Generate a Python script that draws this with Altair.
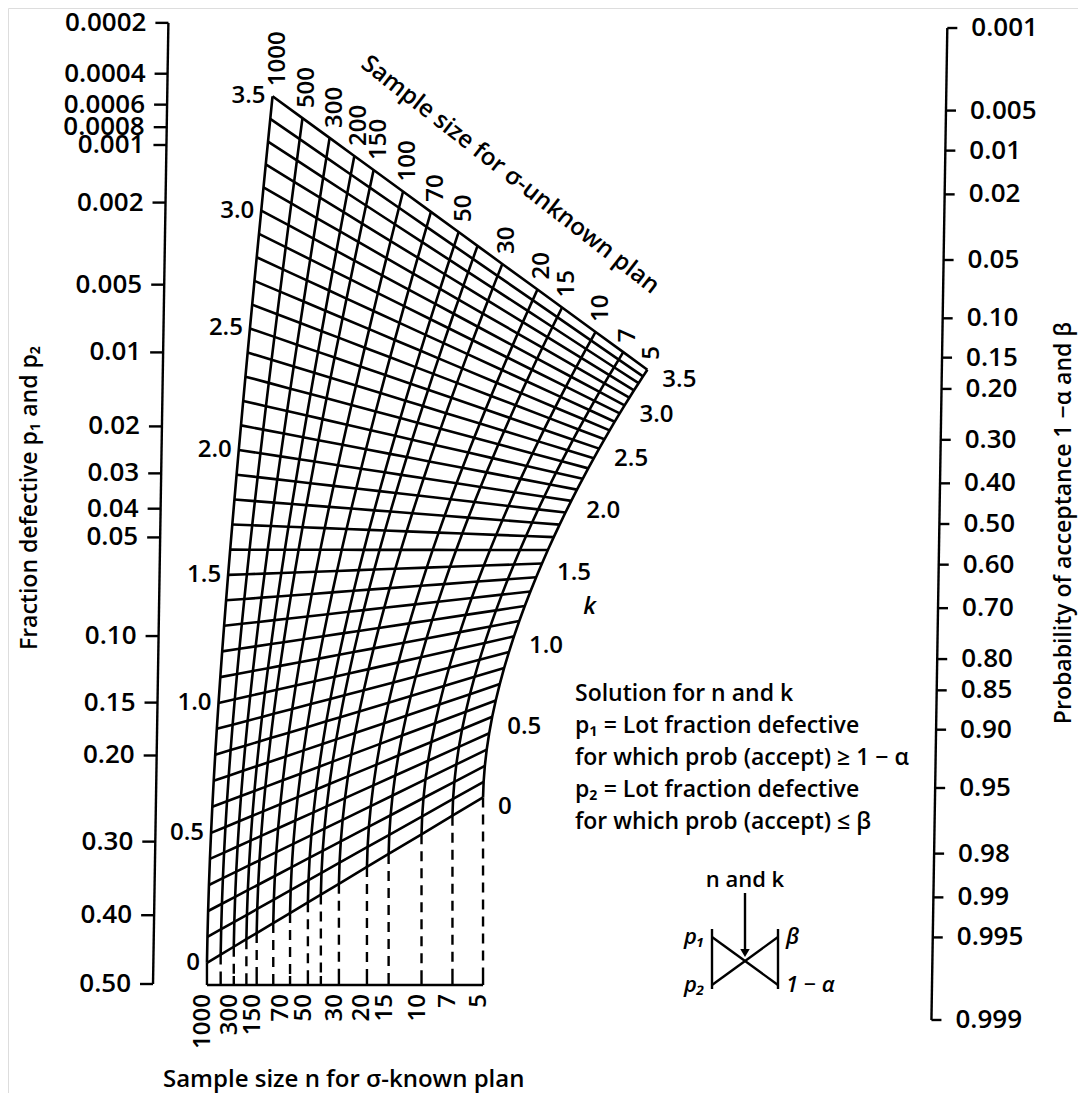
import altair as alt
import numpy as np
import pandas as pd
from statistics import NormalDist

ND = NormalDist()

# ---------------- values ----------------
LEFT_TICKS = [0.0002, 0.0004, 0.0006, 0.0008, 0.001, 0.002, 0.005, 0.01, 0.02,
              0.03, 0.04, 0.05, 0.10, 0.15, 0.20, 0.30, 0.40, 0.50]
LEFT_LABELS = ["0.0002", "0.0004", "0.0006", "0.0008", "0.001", "0.002", "0.005",
               "0.01", "0.02", "0.03", "0.04", "0.05", "0.10", "0.15", "0.20",
               "0.30", "0.40", "0.50"]
RIGHT_TICKS = [0.001, 0.005, 0.01, 0.02, 0.05, 0.10, 0.15, 0.20, 0.30, 0.40, 0.50,
               0.60, 0.70, 0.80, 0.85, 0.90, 0.95, 0.98, 0.99, 0.995, 0.999]
RIGHT_LABELS = ["0.001", "0.005", "0.01", "0.02", "0.05", "0.10", "0.15", "0.20",
                "0.30", "0.40", "0.50", "0.60", "0.70", "0.80", "0.85", "0.90",
                "0.95", "0.98", "0.99", "0.995", "0.999"]
N_LINES = [1000, 500, 300, 200, 150, 100, 70, 50, 40, 30, 20, 15, 10, 7, 5]
N_TOP_LABELS = [1000, 500, 300, 200, 150, 100, 70, 50, 30, 20, 15, 10, 7, 5]
N_BOTTOM_LABELS = [1000, 300, 150, 70, 50, 30, 20, 15, 10, 7, 5]
K_LINES = [0.0, 0.1, 0.2, 0.3, 0.4, 0.5, 0.6, 0.7, 0.8, 0.9, 1.0, 1.1, 1.2, 1.3,
           1.4, 1.5, 1.6, 1.7, 1.8, 1.9, 2.0, 2.1, 2.2, 2.3, 2.4, 2.5, 2.6, 2.7,
           2.8, 2.9, 3.0, 3.1, 3.2, 3.3, 3.4, 3.5]
K_LABELS = [0.0, 0.5, 1.0, 1.5, 2.0, 2.5, 3.0, 3.5]
K_LABEL_TEXT = ["0", "0.5", "1.0", "1.5", "2.0", "2.5", "3.0", "3.5"]
LEGEND_LINES = ["Solution for n and k",
                "p\u2081 = Lot fraction defective",
                "for which prob (accept) \u2265 1 \u2212 \u03b1",
                "p\u2082 = Lot fraction defective",
                "for which prob (accept) \u2264 \u03b2"]

# ---------------- layout of the nomograph (page pixels) ----------------
FONT = "Open Sans"
WEIGHT = 600
LEFT_ZERO_Y, LEFT_UNIT = 984.0, 271.5      # left probit scale
RIGHT_MID_Y, RIGHT_UNIT = 524.0, 160.5     # right probit scale
X_L, X_R, SPREAD = 171.6, 932.0, 1.526     # nomograph alignment
CONV_SLOPE = 16.6                          # drift of the k-line pivot
AXIS_L_X, AXIS_R_X = 153.0, 932.0
BASE_Y, SKEW = 985.0, 0.016

XS = alt.Scale(domain=[8, 1078], nice=False, zero=False)
YS = alt.Scale(domain=[8, 1093], nice=False, zero=False, reverse=True)


def skew(x, y):
    return x + (BASE_Y - y) * SKEW


def y_left(p):
    return LEFT_ZERO_Y - LEFT_UNIT * ND.inv_cdf(1 - p)


def y_right(prob):
    return RIGHT_MID_Y + RIGHT_UNIT * ND.inv_cdf(prob)


def node(n, k):
    w = np.sqrt(1.0 / n + k * k / (2.0 * (n + 2)))
    r = SPREAD * w
    t = r / (1 + r)
    xm = X_L + t * (X_R - X_L)
    y = (1 - t) * (LEFT_ZERO_Y - LEFT_UNIT * k) + t * (RIGHT_MID_Y + CONV_SLOPE * k)
    return skew(xm, y), y


# ---------------- grid polylines ----------------
rows = []
for k in K_LINES:
    for i, n in enumerate(N_LINES):
        x, y = node(n, k)
        rows.append({"lid": f"k{k}", "ord": i, "x": x, "y": y})
for n in N_LINES:
    for i, k in enumerate(K_LINES):
        x, y = node(n, k)
        rows.append({"lid": f"n{n}", "ord": i, "x": x, "y": y})
df_grid = pd.DataFrame(rows)

# ---------------- rules ----------------
solid = []
dashed = []
yt, yb = y_left(LEFT_TICKS[0]), y_left(LEFT_TICKS[-1])
solid.append({"x": skew(AXIS_L_X, yt), "y": yt, "x2": skew(AXIS_L_X, yb), "y2": yb})
for p in LEFT_TICKS:
    y = y_left(p)
    ax = skew(AXIS_L_X, y)
    solid.append({"x": ax - 13, "y": y, "x2": ax, "y2": y})
yt, yb = y_right(RIGHT_TICKS[0]), y_right(RIGHT_TICKS[-1])
solid.append({"x": skew(AXIS_R_X, yt), "y": yt, "x2": skew(AXIS_R_X, yb), "y2": yb})
for p in RIGHT_TICKS:
    y = y_right(p)
    ax = skew(AXIS_R_X, y)
    solid.append({"x": ax, "y": y, "x2": ax + 10, "y2": y})
x_first = node(N_LINES[0], 0.0)[0]
x_last = node(N_LINES[-1], 0.0)[0]
solid.append({"x": x_first, "y": BASE_Y, "x2": x_last, "y2": BASE_Y})
for i, n in enumerate(N_LINES):
    x, y = node(n, 0.0)
    if i == 0:
        solid.append({"x": x, "y": y, "x2": x, "y2": BASE_Y})
    else:
        solid.append({"x": x, "y": BASE_Y - 9, "x2": x, "y2": BASE_Y})
        dashed.append({"x": x, "y": y, "x2": x, "y2": BASE_Y - 9})
# key diagram
DX1, DX2, DYT, DYB = 712.0, 778.0, 937.0, 985.0
DXC = (DX1 + DX2) / 2
solid.append({"x": DX1, "y": DYT - 8, "x2": DX1, "y2": DYB + 4})
solid.append({"x": DX2, "y": DYT - 8, "x2": DX2, "y2": DYB + 4})
solid.append({"x": DX1, "y": DYT, "x2": DX2, "y2": DYB})
solid.append({"x": DX1, "y": DYB, "x2": DX2, "y2": DYT})
solid.append({"x": DXC, "y": 893, "x2": DXC, "y2": 950})
df_solid = pd.DataFrame(solid)
df_dashed = pd.DataFrame(dashed)
df_arrow = pd.DataFrame([{"x": DXC, "y": 953}])

# ---------------- texts ----------------
t_left = pd.DataFrame([{"x": skew(AXIS_L_X, y_left(p)) - 22, "y": y_left(p), "t": s}
                       for p, s in zip(LEFT_TICKS, LEFT_LABELS)])
t_right = pd.DataFrame([{"x": skew(AXIS_R_X, y_right(p)) + 24, "y": y_right(p), "t": s}
                        for p, s in zip(RIGHT_TICKS, RIGHT_LABELS)])
t_kl = pd.DataFrame([{"x": node(N_LINES[0], k)[0] - 7, "y": node(N_LINES[0], k)[1], "t": s}
                     for k, s in zip(K_LABELS, K_LABEL_TEXT)])
t_kr = pd.DataFrame([{"x": node(N_LINES[-1], k)[0] + 15, "y": node(N_LINES[-1], k)[1] + 10, "t": s}
                     for k, s in zip(K_LABELS, K_LABEL_TEXT)])
t_top = pd.DataFrame([{"x": node(n, 3.5)[0] + 5, "y": node(n, 3.5)[1] - 10, "t": str(n)}
                      for n in N_TOP_LABELS])

# bottom labels: at their ticks, pushed apart where they would collide
bx = [node(n, 0.0)[0] for n in N_BOTTOM_LABELS]
for i in range(len(bx) - 2, -1, -1):
    bx[i] = min(bx[i], bx[i + 1] - 23)
t_bot = pd.DataFrame([{"x": x - 4, "y": BASE_Y + 9, "t": str(n)}
                      for x, n in zip(bx, N_BOTTOM_LABELS)])

t_leg = pd.DataFrame([{"x": 575, "y": 694 + 32 * i, "t": s} for i, s in enumerate(LEGEND_LINES)])
t_diag_l = pd.DataFrame([{"x": DX1 - 7, "y": DYT, "t": "p\u2081"}, {"x": DX1 - 7, "y": DYB, "t": "p\u2082"}])
t_diag_r = pd.DataFrame([{"x": DX2 + 8, "y": DYT, "t": "\u03b2"}, {"x": DX2 + 8, "y": DYB, "t": "1 \u2212 \u03b1"}])
t_diag_c = pd.DataFrame([{"x": DXC, "y": 880, "t": "n and k"}])
kx, ky = node(N_LINES[-1], 1.25)
t_k = pd.DataFrame([{"x": kx + 62, "y": ky + 8, "t": "k"}])


def base(df):
    return alt.Chart(df).encode(
        x=alt.X("x:Q", scale=XS, axis=None),
        y=alt.Y("y:Q", scale=YS, axis=None),
    )


def text(df, **kw):
    opts = dict(font=FONT, fontWeight=WEIGHT, color="black", baseline="middle")
    opts.update(kw)
    return base(df).mark_text(**opts).encode(text="t:N")


grid = base(df_grid).mark_line(color="black", strokeWidth=2.6).encode(
    detail="lid:N", order="ord:Q")
rules = base(df_solid).mark_rule(color="black", strokeWidth=2.4).encode(x2="x2:Q", y2="y2:Q")
drules = base(df_dashed).mark_rule(color="black", strokeWidth=2.4, strokeDash=[10, 7]).encode(
    x2="x2:Q", y2="y2:Q")
arrow = base(df_arrow).mark_point(shape="triangle-down", filled=True, color="black", size=90, opacity=1)

titles = pd.DataFrame([{"x": 30, "y": 498, "t": "Fraction defective p\u2081 and p\u2082"}])
titles_r = pd.DataFrame([{"x": 1064, "y": 523, "t": "Probability of acceptance 1 \u2212\u03b1 and \u03b2"}])
title_b = pd.DataFrame([{"x": 163, "y": 1080, "t": "Sample size n for \u03c3-known plan"}])
title_u = pd.DataFrame([{"x": 510, "y": 175, "t": "Sample size for \u03c3-unknown plan"}])

layers = [
    grid, rules, drules, arrow,
    text(t_left, align="right", fontSize=26),
    text(t_right, align="left", fontSize=26),
    text(t_kl, align="right", fontSize=24),
    text(t_kr, align="left", fontSize=24),
    text(t_top, align="left", fontSize=24, angle=270),
    text(t_bot, align="right", fontSize=24, angle=270),
    text(t_leg, align="left", fontSize=23),
    text(t_diag_l, align="right", fontSize=22, fontStyle="italic"),
    text(t_diag_r, align="left", fontSize=22, fontStyle="italic"),
    text(t_diag_c, align="center", fontSize=22),
    text(t_k, align="center", fontSize=24, fontStyle="italic"),
    text(titles, align="center", fontSize=23, angle=270),
    text(titles_r, align="center", fontSize=23, angle=270),
    text(title_b, align="left", fontSize=24),
    text(title_u, align="center", fontSize=24, angle=38),
]

chart = alt.layer(*layers).properties(
    width=1070, height=1085, padding=0,
    autosize=alt.AutoSizeParams(type="none"),
).configure_view(strokeWidth=0).configure(background="white")

chart.save("out.html", embed_options={"renderer": "svg", "actions": False})
